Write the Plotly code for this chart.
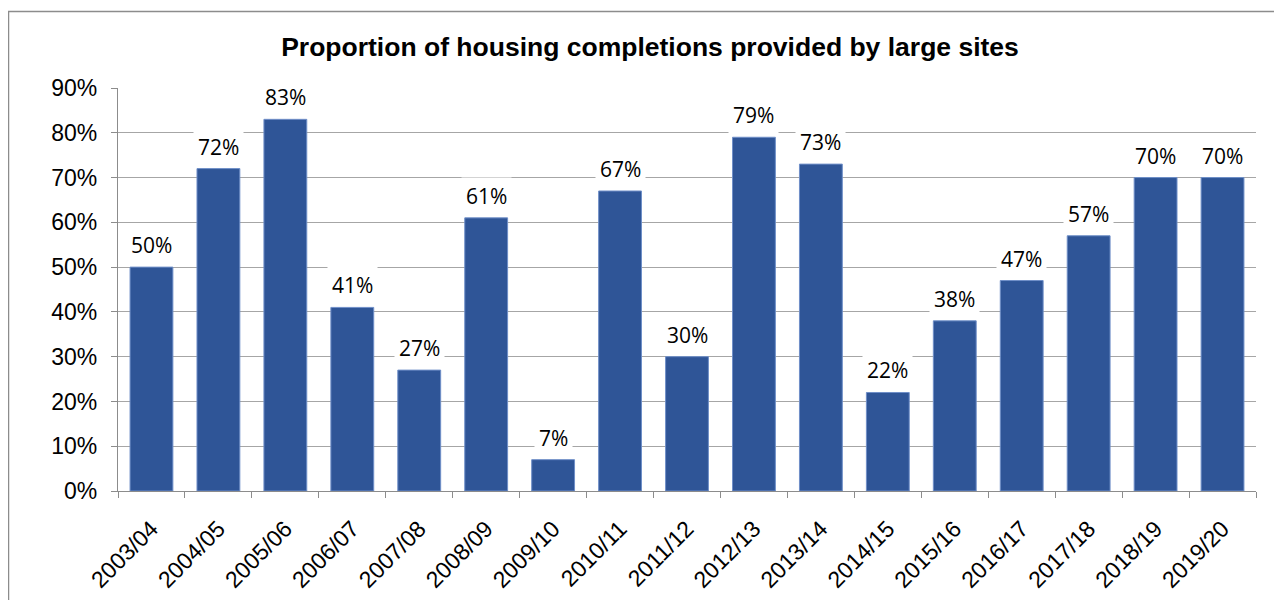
import plotly.graph_objects as go

categories = ["2003/04", "2004/05", "2005/06", "2006/07", "2007/08", "2008/09", "2009/10",
              "2010/11", "2011/12", "2012/13", "2013/14", "2014/15", "2015/16", "2016/17",
              "2017/18", "2018/19", "2019/20"]
values = [50, 72, 83, 41, 27, 61, 7, 67, 30, 79, 73, 22, 38, 47, 57, 70, 70]
y_ticks = [0, 10, 20, 30, 40, 50, 60, 70, 80, 90]
y_ticklabels = [f"{v}%" for v in y_ticks]

W, H = 1266, 592
L, R, T, B = 110, 18, 80, 109
pw = W - L - R
ph = H - T - B

fig = go.Figure()
fig.add_trace(go.Bar(
    x=categories, y=values,
    marker=dict(color="#2F5597", line=dict(color="#6F8FC8", width=1)),
    hoverinfo="x+y",
))

for c, v in zip(categories, values):
    fig.add_annotation(
        x=c, y=v, text=f"{v}%", showarrow=False, yshift=22,
        bgcolor="white", borderpad=4,
        font=dict(family="Open Sans, Noto Sans, sans-serif", size=21, color="#000000"),
    )

# outer chart border (only top and left edges are visible in the window)
fig.add_shape(type="rect", xref="paper", yref="paper",
              x0=(0.6 - L) / pw, x1=1.3,
              y0=-0.6, y1=(H - B - 3.5) / ph,
              line=dict(color="#8C8C8C", width=1.3), fillcolor="rgba(0,0,0,0)", layer="below")

fig.update_layout(
    width=W, height=H,
    margin=dict(l=L, r=R, t=T, b=B, autoexpand=False),
    paper_bgcolor="white", plot_bgcolor="white",
    bargap=0.36,
    showlegend=False,
    title=dict(text="<b>Proportion of housing completions provided by large sites</b>",
               x=642 / W, xanchor="center", y=1 - 39 / H, yanchor="middle",
               font=dict(family="Liberation Sans, Arial, sans-serif", size=26.5, color="#000000")),
    font=dict(family="Liberation Sans, Arial, sans-serif", color="#000000"),
)
fig.update_xaxes(
    automargin=False,
    showline=True, linecolor="#8C8C8C", linewidth=1.3,
    ticks="outside", tickson="boundaries", ticklen=6, tickcolor="#8C8C8C", tickwidth=1.3,
    tickangle=-45, tickfont=dict(size=23, color="#000000"), ticklabelstandoff=14,
    showgrid=False,
)
fig.update_yaxes(
    automargin=False,
    range=[0, 90], tickvals=y_ticks, ticktext=y_ticklabels,
    showline=True, linecolor="#8C8C8C", linewidth=1.3,
    ticks="outside", ticklen=6, tickcolor="#8C8C8C", tickwidth=1.3,
    showgrid=True, gridcolor="#A6A6A6", gridwidth=1.3,
    tickfont=dict(size=23, color="#000000"), ticklabelstandoff=9, zeroline=False,
)

fig.write_html("out.html")
